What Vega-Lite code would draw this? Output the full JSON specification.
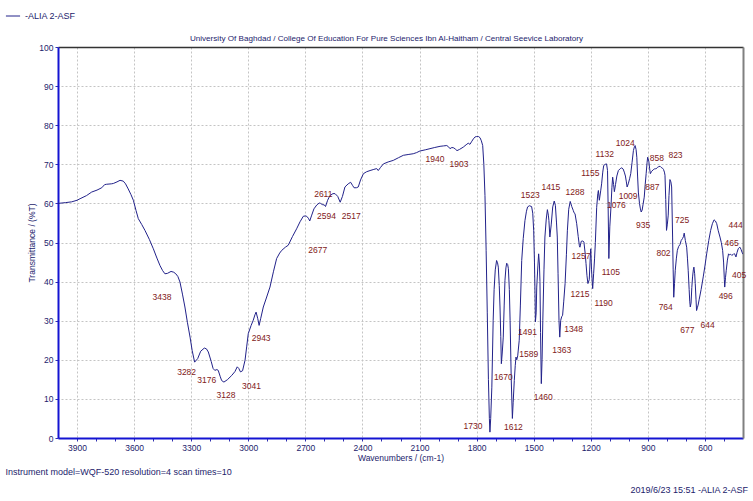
{
  "$schema": "https://vega.github.io/schema/vega-lite/v6.json",
  "width": 685,
  "height": 391,
  "autosize": {"type": "none"},
  "padding": {"left": 58, "top": 47, "right": 10, "bottom": 63},
  "background": "white",
  "config": {
    "font": "Liberation Sans, Arial, sans-serif",
    "view": {"stroke": null}
  },
  "title": {
    "text": "2019/6/23 15:51 -ALIA 2-ASF",
    "orient": "bottom",
    "anchor": "end",
    "frame": "group",
    "dx": 5,
    "offset": 10,
    "fontSize": 9,
    "fontWeight": "normal",
    "color": "#1c1c6c"
  },
  "datasets": {
    "spectrum": [
      {"wn": 4000, "T": 60.0}, {"wn": 3960, "T": 60.2}, {"wn": 3928, "T": 60.4}, {"wn": 3900, "T": 60.8},
      {"wn": 3884, "T": 61.2}, {"wn": 3850, "T": 62.0}, {"wn": 3823, "T": 62.9}, {"wn": 3795, "T": 63.4},
      {"wn": 3770, "T": 64.0}, {"wn": 3755, "T": 64.8}, {"wn": 3744, "T": 64.9}, {"wn": 3720, "T": 65.0},
      {"wn": 3709, "T": 65.1}, {"wn": 3690, "T": 65.5}, {"wn": 3674, "T": 65.9}, {"wn": 3657, "T": 65.7},
      {"wn": 3645, "T": 65.0}, {"wn": 3631, "T": 63.7}, {"wn": 3617, "T": 62.3}, {"wn": 3604, "T": 60.8},
      {"wn": 3590, "T": 58.2}, {"wn": 3578, "T": 56.1}, {"wn": 3560, "T": 54.6}, {"wn": 3543, "T": 53.1},
      {"wn": 3520, "T": 50.8}, {"wn": 3499, "T": 48.4}, {"wn": 3480, "T": 46.0}, {"wn": 3464, "T": 44.1},
      {"wn": 3450, "T": 42.8}, {"wn": 3438, "T": 42.0}, {"wn": 3425, "T": 42.1}, {"wn": 3406, "T": 42.6},
      {"wn": 3392, "T": 42.4}, {"wn": 3381, "T": 42.0}, {"wn": 3370, "T": 41.3}, {"wn": 3359, "T": 39.9},
      {"wn": 3346, "T": 36.8}, {"wn": 3333, "T": 33.5}, {"wn": 3320, "T": 29.6}, {"wn": 3306, "T": 25.8},
      {"wn": 3295, "T": 22.4}, {"wn": 3282, "T": 19.4}, {"wn": 3266, "T": 20.3}, {"wn": 3250, "T": 22.2},
      {"wn": 3231, "T": 23.0}, {"wn": 3220, "T": 22.8}, {"wn": 3210, "T": 22.0}, {"wn": 3195, "T": 19.6},
      {"wn": 3185, "T": 17.8}, {"wn": 3176, "T": 17.3}, {"wn": 3165, "T": 17.5}, {"wn": 3158, "T": 17.3},
      {"wn": 3148, "T": 15.8}, {"wn": 3140, "T": 14.7}, {"wn": 3128, "T": 14.3}, {"wn": 3110, "T": 14.9},
      {"wn": 3087, "T": 16.0}, {"wn": 3070, "T": 17.0}, {"wn": 3058, "T": 18.2}, {"wn": 3050, "T": 17.8},
      {"wn": 3041, "T": 16.9}, {"wn": 3030, "T": 17.2}, {"wn": 3017, "T": 19.9}, {"wn": 3008, "T": 23.5},
      {"wn": 3000, "T": 26.7}, {"wn": 2985, "T": 28.8}, {"wn": 2974, "T": 30.1}, {"wn": 2965, "T": 31.5},
      {"wn": 2959, "T": 32.2}, {"wn": 2950, "T": 30.5}, {"wn": 2943, "T": 28.8}, {"wn": 2935, "T": 30.5},
      {"wn": 2921, "T": 33.5}, {"wn": 2905, "T": 35.8}, {"wn": 2886, "T": 38.6}, {"wn": 2868, "T": 42.5},
      {"wn": 2851, "T": 45.9}, {"wn": 2835, "T": 47.3}, {"wn": 2824, "T": 48.0}, {"wn": 2805, "T": 48.8},
      {"wn": 2790, "T": 49.3}, {"wn": 2768, "T": 51.5}, {"wn": 2746, "T": 53.5}, {"wn": 2728, "T": 55.3},
      {"wn": 2711, "T": 56.7}, {"wn": 2700, "T": 56.8}, {"wn": 2693, "T": 56.7}, {"wn": 2684, "T": 56.2},
      {"wn": 2677, "T": 55.5}, {"wn": 2668, "T": 56.8}, {"wn": 2655, "T": 58.6}, {"wn": 2640, "T": 59.6},
      {"wn": 2627, "T": 60.1}, {"wn": 2620, "T": 60.0}, {"wn": 2611, "T": 59.7}, {"wn": 2600, "T": 59.6},
      {"wn": 2594, "T": 59.2}, {"wn": 2583, "T": 60.8}, {"wn": 2571, "T": 62.0}, {"wn": 2555, "T": 62.5},
      {"wn": 2544, "T": 62.5}, {"wn": 2530, "T": 61.8}, {"wn": 2517, "T": 60.3}, {"wn": 2505, "T": 61.8},
      {"wn": 2492, "T": 64.2}, {"wn": 2475, "T": 65.0}, {"wn": 2462, "T": 65.4}, {"wn": 2452, "T": 64.6},
      {"wn": 2444, "T": 64.0}, {"wn": 2432, "T": 64.0}, {"wn": 2422, "T": 64.2}, {"wn": 2410, "T": 66.0},
      {"wn": 2395, "T": 67.6}, {"wn": 2378, "T": 68.1}, {"wn": 2360, "T": 68.4}, {"wn": 2340, "T": 68.7},
      {"wn": 2325, "T": 68.9}, {"wn": 2317, "T": 68.4}, {"wn": 2305, "T": 69.2}, {"wn": 2290, "T": 70.1},
      {"wn": 2265, "T": 70.6}, {"wn": 2238, "T": 71.0}, {"wn": 2210, "T": 71.7}, {"wn": 2185, "T": 72.3},
      {"wn": 2160, "T": 72.5}, {"wn": 2133, "T": 72.7}, {"wn": 2115, "T": 73.0}, {"wn": 2098, "T": 73.4},
      {"wn": 2070, "T": 73.7}, {"wn": 2045, "T": 74.0}, {"wn": 2020, "T": 74.3}, {"wn": 1992, "T": 74.6},
      {"wn": 1975, "T": 74.7}, {"wn": 1957, "T": 74.8}, {"wn": 1948, "T": 74.5}, {"wn": 1940, "T": 74.0},
      {"wn": 1930, "T": 74.3}, {"wn": 1920, "T": 74.2}, {"wn": 1912, "T": 73.9}, {"wn": 1903, "T": 73.5},
      {"wn": 1890, "T": 73.8}, {"wn": 1870, "T": 74.4}, {"wn": 1855, "T": 75.0}, {"wn": 1844, "T": 75.4},
      {"wn": 1835, "T": 75.1}, {"wn": 1825, "T": 75.9}, {"wn": 1817, "T": 76.5}, {"wn": 1808, "T": 77.0},
      {"wn": 1800, "T": 77.1}, {"wn": 1790, "T": 77.1}, {"wn": 1782, "T": 76.8}, {"wn": 1775, "T": 76.0},
      {"wn": 1768, "T": 74.8}, {"wn": 1762, "T": 70.0}, {"wn": 1756, "T": 62.0}, {"wn": 1750, "T": 48.0},
      {"wn": 1744, "T": 32.0}, {"wn": 1738, "T": 15.0}, {"wn": 1733, "T": 5.0}, {"wn": 1730, "T": 1.5},
      {"wn": 1726, "T": 5.0}, {"wn": 1720, "T": 13.0}, {"wn": 1713, "T": 30.0}, {"wn": 1708, "T": 38.0},
      {"wn": 1702, "T": 43.0}, {"wn": 1695, "T": 45.4}, {"wn": 1690, "T": 44.8}, {"wn": 1686, "T": 43.7},
      {"wn": 1681, "T": 39.0}, {"wn": 1677, "T": 33.5}, {"wn": 1673, "T": 26.0}, {"wn": 1670, "T": 19.0},
      {"wn": 1665, "T": 22.0}, {"wn": 1660, "T": 25.8}, {"wn": 1655, "T": 34.0}, {"wn": 1651, "T": 40.3},
      {"wn": 1646, "T": 43.5}, {"wn": 1642, "T": 44.7}, {"wn": 1637, "T": 44.4}, {"wn": 1633, "T": 43.3},
      {"wn": 1628, "T": 38.0}, {"wn": 1624, "T": 30.1}, {"wn": 1618, "T": 15.0}, {"wn": 1612, "T": 5.0},
      {"wn": 1608, "T": 9.0}, {"wn": 1602, "T": 14.7}, {"wn": 1597, "T": 18.5}, {"wn": 1593, "T": 20.7},
      {"wn": 1589, "T": 20.0}, {"wn": 1584, "T": 21.0}, {"wn": 1576, "T": 25.0}, {"wn": 1570, "T": 34.0},
      {"wn": 1563, "T": 45.4}, {"wn": 1555, "T": 51.0}, {"wn": 1546, "T": 55.6}, {"wn": 1538, "T": 58.0},
      {"wn": 1532, "T": 59.1}, {"wn": 1523, "T": 59.4}, {"wn": 1511, "T": 59.2}, {"wn": 1505, "T": 57.5},
      {"wn": 1500, "T": 53.0}, {"wn": 1496, "T": 45.0}, {"wn": 1493, "T": 37.0}, {"wn": 1491, "T": 29.7},
      {"wn": 1487, "T": 32.0}, {"wn": 1484, "T": 38.6}, {"wn": 1478, "T": 44.0}, {"wn": 1474, "T": 47.1},
      {"wn": 1470, "T": 44.5}, {"wn": 1467, "T": 40.0}, {"wn": 1464, "T": 27.0}, {"wn": 1460, "T": 13.9},
      {"wn": 1456, "T": 20.0}, {"wn": 1452, "T": 30.1}, {"wn": 1446, "T": 43.0}, {"wn": 1441, "T": 51.4},
      {"wn": 1434, "T": 56.0}, {"wn": 1428, "T": 58.4}, {"wn": 1423, "T": 57.0}, {"wn": 1420, "T": 55.6},
      {"wn": 1415, "T": 51.4}, {"wn": 1408, "T": 54.5}, {"wn": 1400, "T": 59.1}, {"wn": 1392, "T": 60.6},
      {"wn": 1386, "T": 59.5}, {"wn": 1380, "T": 55.0}, {"wn": 1376, "T": 51.4}, {"wn": 1372, "T": 42.0},
      {"wn": 1367, "T": 30.0}, {"wn": 1363, "T": 25.8}, {"wn": 1358, "T": 30.1}, {"wn": 1353, "T": 31.0},
      {"wn": 1348, "T": 31.4}, {"wn": 1342, "T": 35.0}, {"wn": 1335, "T": 39.5}, {"wn": 1328, "T": 47.0},
      {"wn": 1323, "T": 53.0}, {"wn": 1316, "T": 58.5}, {"wn": 1308, "T": 60.5}, {"wn": 1300, "T": 59.2},
      {"wn": 1292, "T": 58.2}, {"wn": 1288, "T": 57.6}, {"wn": 1283, "T": 57.4}, {"wn": 1274, "T": 54.8},
      {"wn": 1266, "T": 51.5}, {"wn": 1260, "T": 49.2}, {"wn": 1257, "T": 48.8}, {"wn": 1250, "T": 50.3},
      {"wn": 1242, "T": 50.4}, {"wn": 1236, "T": 50.1}, {"wn": 1229, "T": 47.0}, {"wn": 1225, "T": 44.6},
      {"wn": 1220, "T": 41.5}, {"wn": 1215, "T": 39.5}, {"wn": 1208, "T": 40.5}, {"wn": 1203, "T": 46.0},
      {"wn": 1200, "T": 48.4}, {"wn": 1196, "T": 43.0}, {"wn": 1190, "T": 38.2}, {"wn": 1185, "T": 42.0},
      {"wn": 1180, "T": 46.0}, {"wn": 1176, "T": 50.0}, {"wn": 1169, "T": 59.0}, {"wn": 1163, "T": 62.5},
      {"wn": 1160, "T": 63.3}, {"wn": 1155, "T": 60.8}, {"wn": 1148, "T": 63.2}, {"wn": 1143, "T": 65.0},
      {"wn": 1137, "T": 68.0}, {"wn": 1132, "T": 69.7}, {"wn": 1124, "T": 70.0}, {"wn": 1117, "T": 70.1},
      {"wn": 1112, "T": 68.4}, {"wn": 1109, "T": 60.0}, {"wn": 1105, "T": 45.9}, {"wn": 1100, "T": 54.0},
      {"wn": 1094, "T": 59.0}, {"wn": 1089, "T": 64.0}, {"wn": 1085, "T": 66.7}, {"wn": 1080, "T": 64.8},
      {"wn": 1076, "T": 63.0}, {"wn": 1070, "T": 64.8}, {"wn": 1063, "T": 67.0}, {"wn": 1055, "T": 68.4},
      {"wn": 1045, "T": 68.9}, {"wn": 1037, "T": 69.1}, {"wn": 1030, "T": 68.8}, {"wn": 1024, "T": 68.0},
      {"wn": 1018, "T": 67.0}, {"wn": 1013, "T": 65.5}, {"wn": 1009, "T": 64.2}, {"wn": 1003, "T": 65.0},
      {"wn": 996, "T": 66.3}, {"wn": 990, "T": 67.6}, {"wn": 983, "T": 70.5}, {"wn": 976, "T": 73.5},
      {"wn": 970, "T": 74.6}, {"wn": 967, "T": 74.8}, {"wn": 962, "T": 73.8}, {"wn": 958, "T": 71.8},
      {"wn": 954, "T": 67.0}, {"wn": 950, "T": 62.9}, {"wn": 944, "T": 60.0}, {"wn": 940, "T": 58.8},
      {"wn": 935, "T": 57.8}, {"wn": 930, "T": 58.3}, {"wn": 925, "T": 59.8}, {"wn": 919, "T": 61.6},
      {"wn": 914, "T": 64.8}, {"wn": 909, "T": 67.6}, {"wn": 904, "T": 70.5}, {"wn": 901, "T": 71.8},
      {"wn": 895, "T": 70.8}, {"wn": 891, "T": 69.0}, {"wn": 887, "T": 67.6}, {"wn": 880, "T": 68.2},
      {"wn": 872, "T": 68.6}, {"wn": 866, "T": 68.8}, {"wn": 862, "T": 68.9}, {"wn": 858, "T": 68.8},
      {"wn": 850, "T": 69.2}, {"wn": 843, "T": 69.4}, {"wn": 836, "T": 69.5}, {"wn": 830, "T": 69.2},
      {"wn": 823, "T": 69.0}, {"wn": 818, "T": 68.7}, {"wn": 813, "T": 68.0}, {"wn": 810, "T": 67.2},
      {"wn": 806, "T": 61.0}, {"wn": 802, "T": 53.1}, {"wn": 798, "T": 54.5}, {"wn": 793, "T": 57.0},
      {"wn": 789, "T": 62.0}, {"wn": 784, "T": 66.1}, {"wn": 779, "T": 65.5}, {"wn": 775, "T": 64.2},
      {"wn": 770, "T": 51.4}, {"wn": 767, "T": 43.0}, {"wn": 764, "T": 36.0}, {"wn": 760, "T": 39.5},
      {"wn": 756, "T": 42.9}, {"wn": 750, "T": 46.0}, {"wn": 745, "T": 48.0}, {"wn": 738, "T": 49.0},
      {"wn": 731, "T": 49.5}, {"wn": 725, "T": 50.5}, {"wn": 718, "T": 51.0}, {"wn": 713, "T": 51.5},
      {"wn": 709, "T": 52.4}, {"wn": 703, "T": 50.5}, {"wn": 696, "T": 48.8}, {"wn": 692, "T": 46.0},
      {"wn": 688, "T": 42.9}, {"wn": 683, "T": 38.0}, {"wn": 680, "T": 35.0}, {"wn": 677, "T": 33.5},
      {"wn": 673, "T": 34.5}, {"wn": 669, "T": 38.5}, {"wn": 665, "T": 41.2}, {"wn": 661, "T": 43.0},
      {"wn": 658, "T": 43.7}, {"wn": 654, "T": 42.0}, {"wn": 651, "T": 39.5}, {"wn": 647, "T": 35.5},
      {"wn": 644, "T": 32.6}, {"wn": 640, "T": 33.3}, {"wn": 636, "T": 34.0}, {"wn": 630, "T": 35.5},
      {"wn": 620, "T": 38.0}, {"wn": 609, "T": 41.2}, {"wn": 600, "T": 44.0}, {"wn": 591, "T": 47.1},
      {"wn": 580, "T": 50.5}, {"wn": 570, "T": 53.1}, {"wn": 561, "T": 54.8}, {"wn": 552, "T": 55.8},
      {"wn": 545, "T": 55.5}, {"wn": 538, "T": 54.8}, {"wn": 530, "T": 53.0}, {"wn": 521, "T": 51.4},
      {"wn": 514, "T": 50.0}, {"wn": 507, "T": 48.0}, {"wn": 502, "T": 45.0}, {"wn": 498, "T": 40.5},
      {"wn": 496, "T": 38.6}, {"wn": 492, "T": 41.0}, {"wn": 488, "T": 42.9}, {"wn": 482, "T": 45.5},
      {"wn": 476, "T": 47.1}, {"wn": 470, "T": 46.8}, {"wn": 465, "T": 47.0}, {"wn": 459, "T": 46.7},
      {"wn": 453, "T": 46.9}, {"wn": 449, "T": 47.1}, {"wn": 444, "T": 47.1}, {"wn": 437, "T": 46.3},
      {"wn": 431, "T": 47.5}, {"wn": 425, "T": 48.4}, {"wn": 420, "T": 48.7}, {"wn": 416, "T": 48.8},
      {"wn": 410, "T": 48.2}, {"wn": 405, "T": 47.5}, {"wn": 400, "T": 47.0}
    ],
    "peaks": [
      {"wn": 3438, "T": 42.0, "place": "bb"}, {"wn": 3282, "T": 19.4, "place": "bl"},
      {"wn": 3176, "T": 17.3, "place": "bl"}, {"wn": 3128, "T": 14.3, "place": "b"},
      {"wn": 3041, "T": 16.9, "place": "br"}, {"wn": 2943, "T": 28.8, "place": "b"},
      {"wn": 2677, "T": 55.5, "place": "bbr"}, {"wn": 2611, "T": 59.7, "place": "a"},
      {"wn": 2594, "T": 59.2, "place": "bn"}, {"wn": 2517, "T": 60.3, "place": "br"},
      {"wn": 1940, "T": 74.0, "place": "lb"}, {"wn": 1903, "T": 73.5, "place": "b"},
      {"wn": 1730, "T": 1.5, "place": "l"}, {"wn": 1670, "T": 19.0, "place": "b"},
      {"wn": 1612, "T": 5.0, "place": "bn"}, {"wn": 1589, "T": 20.0, "place": "r"},
      {"wn": 1523, "T": 59.4, "place": "a"}, {"wn": 1491, "T": 29.7, "place": "bl"},
      {"wn": 1460, "T": 13.9, "place": "b"}, {"wn": 1415, "T": 51.4, "place": "t"},
      {"wn": 1363, "T": 25.8, "place": "b"}, {"wn": 1348, "T": 31.4, "place": "br"},
      {"wn": 1288, "T": 57.6, "place": "aa"}, {"wn": 1257, "T": 48.8, "place": "bn"},
      {"wn": 1215, "T": 39.5, "place": "bl"}, {"wn": 1190, "T": 38.2, "place": "br"},
      {"wn": 1155, "T": 60.8, "place": "aal"}, {"wn": 1132, "T": 69.7, "place": "a"},
      {"wn": 1105, "T": 45.9, "place": "b"}, {"wn": 1076, "T": 63.0, "place": "b"},
      {"wn": 1024, "T": 68.0, "place": "aaa"}, {"wn": 1009, "T": 64.2, "place": "bn"},
      {"wn": 935, "T": 57.8, "place": "b"}, {"wn": 887, "T": 67.6, "place": "b"},
      {"wn": 858, "T": 68.8, "place": "a"}, {"wn": 823, "T": 69.0, "place": "ar"},
      {"wn": 802, "T": 53.1, "place": "bb"}, {"wn": 764, "T": 36.0, "place": "bl"},
      {"wn": 725, "T": 50.5, "place": "aa"}, {"wn": 677, "T": 33.5, "place": "bb"},
      {"wn": 644, "T": 32.6, "place": "br"}, {"wn": 496, "T": 38.6, "place": "bn"},
      {"wn": 465, "T": 47.0, "place": "a"}, {"wn": 444, "T": 47.1, "place": "aaa"},
      {"wn": 405, "T": 47.5, "place": "bb"}
    ]
  },
  "layer": [
    {
      "data": {"name": "spectrum"},
      "mark": {"type": "line", "strokeWidth": 1, "clip": true},
      "encoding": {
        "x": {
          "field": "wn",
          "type": "quantitative",
          "scale": {"domain": [400, 4000], "reverse": true, "nice": false, "zero": false},
          "axis": {
            "orient": "bottom",
            "values": [3900, 3800, 3700, 3600, 3500, 3400, 3300, 3200, 3100, 3000, 2900, 2800, 2700, 2600, 2500, 2400, 2300, 2200, 2100, 2000, 1900, 1800, 1700, 1600, 1500, 1400, 1300, 1200, 1100, 1000, 900, 800, 700, 600, 500],
            "format": "d",
            "labelExpr": "datum.value % 300 === 0 ? datum.label : ''",
            "labelOverlap": false,
            "labelFlush": false,
            "labelFontSize": 8.5,
            "labelColor": "#1c1c6c",
            "labelPadding": 2,
            "tickSize": 3,
            "tickColor": "#3030b0",
            "domainColor": "#1414d2",
            "domainWidth": 2,
            "grid": true,
            "gridColor": "#c4c4c4",
            "gridDash": [2, 2],
            "gridOpacity": {"condition": {"test": "datum.value % 300 === 0", "value": 1}, "value": 0},
            "title": "Wavenumbers / (cm-1)",
            "titleFontSize": 8.5,
            "titleFontWeight": "normal",
            "titleColor": "#1c1c6c",
            "titlePadding": 2
          }
        },
        "y": {
          "field": "T",
          "type": "quantitative",
          "scale": {"domain": [0, 100], "nice": false},
          "axis": {
            "orient": "left",
            "values": [0, 10, 20, 30, 40, 50, 60, 70, 80, 90, 100],
            "labelFontSize": 8.5,
            "labelColor": "#1c1c6c",
            "labelPadding": 2,
            "tickSize": 3,
            "tickColor": "#3030b0",
            "domainColor": "#1414d2",
            "domainWidth": 2,
            "grid": true,
            "gridColor": "#c4c4c4",
            "gridDash": [2, 2],
            "title": "Transmittance / (%T)",
            "titleFontSize": 8.5,
            "titleFontWeight": "normal",
            "titleColor": "#1c1c6c",
            "titlePadding": 2
          }
        },
        "color": {
          "datum": "-ALIA 2-ASF",
          "scale": {"range": ["#22228a"]},
          "legend": {
            "orient": "none",
            "legendX": -53,
            "legendY": -39,
            "title": null,
            "padding": 0,
            "symbolType": "stroke",
            "symbolSize": 200,
            "symbolStrokeWidth": 1,
            "labelFontSize": 9,
            "labelColor": "#1c1c6c"
          }
        }
      }
    },
    {
      "data": {"name": "peaks"},
      "encoding": {
        "x": {
          "field": "wn",
          "type": "quantitative",
          "scale": {"domain": [400, 4000], "reverse": true, "nice": false, "zero": false},
          "axis": {
            "orient": "top",
            "domainColor": "#333333",
            "domainWidth": 1.5,
            "ticks": false,
            "labels": false,
            "grid": false,
            "title": "University Of  Baghdad / College Of  Education For Pure Sciences Ibn Al-Haitham / Central Seevice Laboratory",
            "titleFontSize": 8.1,
            "titleFontWeight": "normal",
            "titleColor": "#1c1c6c",
            "titleX": 328,
            "titleY": -7,
            "titleAlign": "center",
            "titleBaseline": "alphabetic"
          }
        },
        "y": {
          "field": "T",
          "type": "quantitative",
          "scale": {"domain": [0, 100], "nice": false},
          "axis": {
            "orient": "right",
            "domainColor": "#808080",
            "domainWidth": 2,
            "ticks": false,
            "labels": false,
            "grid": false,
            "title": "Instrument model=WQF-520 resolution=4 scan times=10",
            "titleAngle": 0,
            "titleAlign": "left",
            "titleBaseline": "alphabetic",
            "titleX": -738,
            "titleY": 427,
            "titleFontSize": 9,
            "titleFontWeight": "normal",
            "titleColor": "#1c1c6c"
          }
        },
        "text": {"field": "wn", "type": "quantitative", "format": "d"}
      },
      "layer": [
        {"transform": [{"filter": "datum.place === 'b'"}], "mark": {"type": "text", "dx": 2, "dy": 13, "fontSize": 8.5, "color": "#7f2020", "baseline": "middle"}},
        {"transform": [{"filter": "datum.place === 'bn'"}], "mark": {"type": "text", "dx": 1, "dy": 9, "fontSize": 8.5, "color": "#7f2020", "baseline": "middle"}},
        {"transform": [{"filter": "datum.place === 'br'"}], "mark": {"type": "text", "dx": 11, "dy": 14, "fontSize": 8.5, "color": "#7f2020", "baseline": "middle"}},
        {"transform": [{"filter": "datum.place === 'bl'"}], "mark": {"type": "text", "dx": -8, "dy": 10, "fontSize": 8.5, "color": "#7f2020", "baseline": "middle"}},
        {"transform": [{"filter": "datum.place === 'bb'"}], "mark": {"type": "text", "dx": -3, "dy": 23, "fontSize": 8.5, "color": "#7f2020", "baseline": "middle"}},
        {"transform": [{"filter": "datum.place === 'bbr'"}], "mark": {"type": "text", "dx": 8, "dy": 29, "fontSize": 8.5, "color": "#7f2020", "baseline": "middle"}},
        {"transform": [{"filter": "datum.place === 'lb'"}], "mark": {"type": "text", "dx": -15, "dy": 10, "fontSize": 8.5, "color": "#7f2020", "baseline": "middle"}},
        {"transform": [{"filter": "datum.place === 'a'"}], "mark": {"type": "text", "dx": 1, "dy": -11, "fontSize": 8.5, "color": "#7f2020", "baseline": "middle"}},
        {"transform": [{"filter": "datum.place === 'ar'"}], "mark": {"type": "text", "dx": 13, "dy": -13, "fontSize": 8.5, "color": "#7f2020", "baseline": "middle"}},
        {"transform": [{"filter": "datum.place === 'l'"}], "mark": {"type": "text", "dx": -17, "dy": -6, "fontSize": 8.5, "color": "#7f2020", "baseline": "middle"}},
        {"transform": [{"filter": "datum.place === 'r'"}], "mark": {"type": "text", "dx": 12, "dy": -6, "fontSize": 8.5, "color": "#7f2020", "baseline": "middle"}},
        {"transform": [{"filter": "datum.place === 'aa'"}], "mark": {"type": "text", "dx": 1, "dy": -21, "fontSize": 8.5, "color": "#7f2020", "baseline": "middle"}},
        {"transform": [{"filter": "datum.place === 'aaa'"}], "mark": {"type": "text", "dx": 1, "dy": -29, "fontSize": 8.5, "color": "#7f2020", "baseline": "middle"}},
        {"transform": [{"filter": "datum.place === 'aal'"}], "mark": {"type": "text", "dx": -9, "dy": -27, "fontSize": 8.5, "color": "#7f2020", "baseline": "middle"}},
        {"transform": [{"filter": "datum.place === 't'"}], "mark": {"type": "text", "dx": 1, "dy": -50, "fontSize": 8.5, "color": "#7f2020", "baseline": "middle"}}
      ]
    }
  ],
  "resolve": {"scale": {"x": "independent", "y": "independent"}}
}
